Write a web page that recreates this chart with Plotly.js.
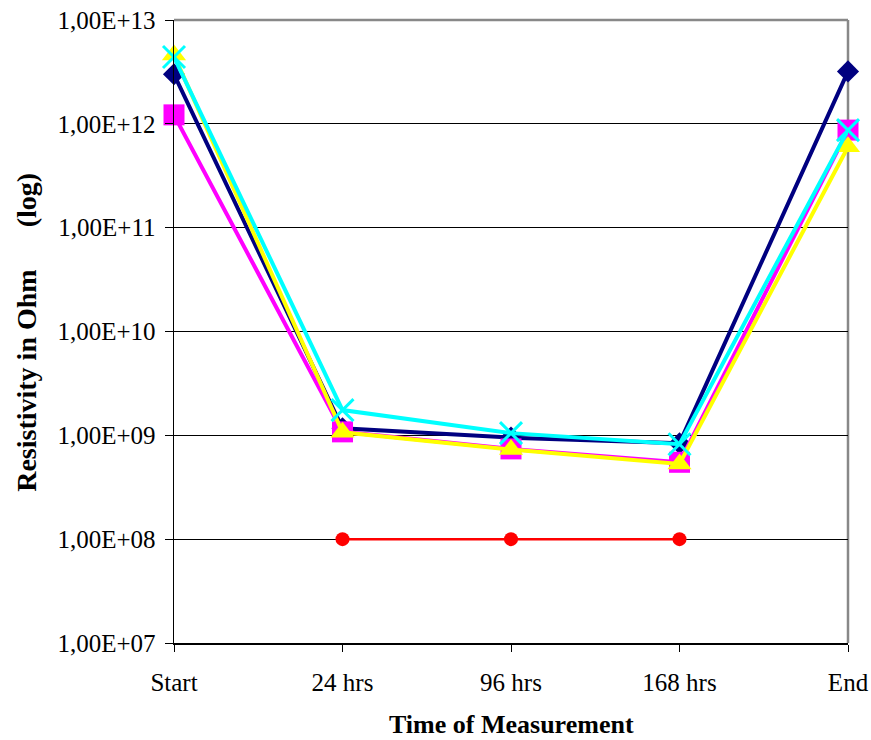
<!DOCTYPE html>
<html>
<head>
<meta charset="utf-8">
<script src="https://cdn.plot.ly/plotly-3.0.1.min.js"></script>
<style>body{margin:0;padding:0;background:#fff;} #chart{width:871px;height:740px;}</style>
</head>
<body>
<div id="chart"></div>
<script>
const categories = ["Start", "24 hrs", "96 hrs", "168 hrs", "End"];
const seriesNavy = [3.0e12, 1.17e9, 0.95e9, 8.4e8, 3.2e12];
const seriesMagenta = [1.22e12, 1.08e9, 7.4e8, 5.5e8, 8.7e11];
const seriesYellow = [4.6e12, 1.07e9, 7.3e8, 5.3e8, 6.0e11];
const seriesCyan = [4.4e12, 1.75e9, 1.05e9, 8.2e8, 8.7e11];
const seriesRed = [null, 1e8, 1e8, 1e8, null];
const yTickVals = [1e7, 1e8, 1e9, 1e10, 1e11, 1e12, 1e13];
const yTickText = ["1,00E+07", "1,00E+08", "1,00E+09", "1,00E+10", "1,00E+11", "1,00E+12", "1,00E+13"];

const xIdx = categories.map((c, i) => i);
const font = "Liberation Serif, Times New Roman, serif";

function tr(y, color, symbol, size, lw, extraMarker) {
  return {
    x: xIdx, y: y, type: "scatter", mode: "lines+markers",
    line: {color: color, width: lw},
    marker: Object.assign({color: color, symbol: symbol, size: size}, extraMarker || {}),
    hoverinfo: "x+y", showlegend: false, connectgaps: false, cliponaxis: false
  };
}

const data = [
  tr(seriesNavy, "#000080", "diamond", 17, 4),
  tr(seriesMagenta, "#FF00FF", "square", 21, 4),
  tr(seriesYellow, "#FFFF00", "triangle-up", 21, 4),
  tr(seriesCyan, "#00FFFF", "x-thin-open", 22, 4, {line: {color: "#00FFFF", width: 3}}),
  tr(seriesRed, "#FF0000", "circle", 14, 2.5)
];

const layout = {
  width: 871, height: 740,
  margin: {l: 174, r: 23, t: 20, b: 97},
  paper_bgcolor: "#fff", plot_bgcolor: "#fff",
  font: {family: font, size: 25, color: "#000"},
  xaxis: {
    range: [0, 4], tickvals: xIdx, ticktext: categories,
    showgrid: false, zeroline: false,
    showline: true, linecolor: "#000", linewidth: 1.5,
    ticks: "outside", ticklen: 7, tickcolor: "#000", tickwidth: 1,
    ticklabelstandoff: 9,
    tickfont: {family: font, size: 25, color: "#000"}
  },
  yaxis: {
    type: "log", range: [7, 13], tickvals: yTickVals, ticktext: yTickText,
    showgrid: true, gridcolor: "#000", gridwidth: 1,
    zeroline: false, showline: true, linecolor: "#000", linewidth: 1.5,
    ticks: "outside", ticklen: 8, tickcolor: "#000", tickwidth: 1,
    ticklabelstandoff: 4,
    tickfont: {family: font, size: 25, color: "#000"}
  },
  shapes: [
    {type: "line", xref: "paper", yref: "paper", x0: 0, x1: 1, y0: 1, y1: 1, layer: "below", line: {color: "#888", width: 2.5}},
    {type: "line", xref: "paper", yref: "paper", x0: 1, x1: 1, y0: 0, y1: 1, layer: "below", line: {color: "#888", width: 2.5}}
  ],
  annotations: [
    {text: "<b>Time of Measurement</b>", xref: "paper", yref: "paper", x: 0.5, y: -0.1316,
     xanchor: "center", yanchor: "middle", showarrow: false, font: {family: font, size: 26, color: "#000"}},
    {text: "<b>Resistivity in Ohm\u00A0\u00A0\u00A0\u00A0\u00A0\u00A0(log)</b>", xref: "paper", yref: "paper",
     x: -0.218, y: 0.498, xanchor: "center", yanchor: "middle", textangle: -90, showarrow: false,
     font: {family: font, size: 28, color: "#000"}}
  ]
};

Plotly.newPlot("chart", data, layout, {displayModeBar: false, staticPlot: true});
</script>
</body>
</html>
